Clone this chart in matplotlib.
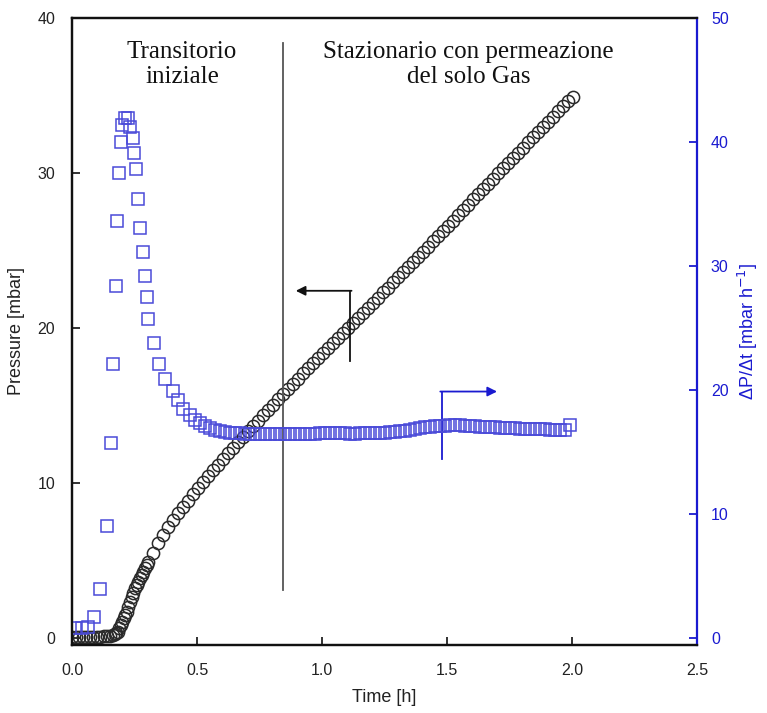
import matplotlib
matplotlib.use("Agg")
import matplotlib.pyplot as plt

### pressure (circles) ###
t_press = [0.000, 0.014, 0.028, 0.042, 0.056, 0.070, 0.084, 0.098, 0.112, 0.126,
           0.140, 0.152, 0.162, 0.170, 0.177, 0.183, 0.189, 0.196, 0.201, 0.207,
           0.212, 0.219, 0.225, 0.232, 0.239, 0.245, 0.252, 0.259, 0.265, 0.272,
           0.279, 0.285, 0.292, 0.299, 0.305, 0.325, 0.345, 0.365, 0.385, 0.405,
           0.425, 0.445, 0.465, 0.485, 0.505, 0.525, 0.545, 0.565, 0.585, 0.605,
           0.625, 0.645, 0.665, 0.685, 0.705, 0.725, 0.745, 0.765, 0.785, 0.805,
           0.825, 0.845, 0.865, 0.885, 0.905, 0.925, 0.945, 0.965, 0.985, 1.005,
           1.025, 1.045, 1.065, 1.085, 1.105, 1.125, 1.145, 1.165, 1.185, 1.205,
           1.225, 1.245, 1.265, 1.285, 1.305, 1.325, 1.345, 1.365, 1.385, 1.405,
           1.425, 1.445, 1.465, 1.485, 1.505, 1.525, 1.545, 1.565, 1.585, 1.605,
           1.625, 1.645, 1.665, 1.685, 1.705, 1.725, 1.745, 1.765, 1.785, 1.805,
           1.825, 1.845, 1.865, 1.885, 1.905, 1.925, 1.945, 1.965, 1.985, 2.003]
p_press = [0.05, 0.05, 0.06, 0.06, 0.07, 0.07, 0.08, 0.08, 0.09, 0.10,
           0.11, 0.13, 0.17, 0.24, 0.32, 0.41, 0.62, 0.84, 1.05, 1.27,
           1.48, 1.69, 2.02, 2.34, 2.66, 2.92, 3.20, 3.41, 3.63, 3.84,
           4.06, 4.27, 4.49, 4.70, 4.91, 5.50, 6.10, 6.65, 7.15, 7.62,
           8.06, 8.46, 8.87, 9.28, 9.67, 10.05, 10.44, 10.82, 11.19, 11.56,
           11.92, 12.28, 12.63, 12.98, 13.33, 13.68, 14.02, 14.37, 14.71, 15.05,
           15.39, 15.73, 16.07, 16.41, 16.74, 17.08, 17.41, 17.74, 18.06, 18.39,
           18.71, 19.04, 19.36, 19.69, 20.01, 20.34, 20.66, 20.99, 21.31, 21.64,
           21.96, 22.29, 22.61, 22.94, 23.26, 23.59, 23.92, 24.25, 24.58, 24.91,
           25.24, 25.58, 25.91, 26.25, 26.59, 26.93, 27.27, 27.61, 27.95, 28.29,
           28.63, 28.96, 29.30, 29.64, 29.97, 30.31, 30.64, 30.98, 31.31, 31.64,
           31.98, 32.31, 32.64, 32.97, 33.31, 33.64, 33.97, 34.30, 34.63, 34.90]

### dP/dt (squares) ###
t_rate = [0.012, 0.041, 0.063, 0.089, 0.112, 0.139, 0.155, 0.163, 0.176, 0.181,
          0.189, 0.195, 0.199, 0.212, 0.225, 0.232, 0.243, 0.248, 0.256, 0.265,
          0.272, 0.283, 0.292, 0.299, 0.305, 0.328, 0.349, 0.372, 0.403, 0.425,
          0.445, 0.472, 0.492, 0.512, 0.532, 0.552, 0.572, 0.592, 0.612, 0.632,
          0.652, 0.672, 0.692, 0.712, 0.732, 0.752, 0.772, 0.792, 0.812, 0.832,
          0.852, 0.872, 0.892, 0.912, 0.932, 0.952, 0.972, 0.992, 1.012, 1.032,
          1.052, 1.072, 1.092, 1.112, 1.132, 1.152, 1.172, 1.192, 1.212, 1.232,
          1.252, 1.272, 1.292, 1.312, 1.332, 1.352, 1.372, 1.392, 1.412, 1.432,
          1.452, 1.472, 1.492, 1.512, 1.532, 1.552, 1.572, 1.592, 1.612, 1.632,
          1.652, 1.672, 1.692, 1.712, 1.732, 1.752, 1.772, 1.792, 1.812, 1.832,
          1.852, 1.872, 1.892, 1.912, 1.932, 1.952, 1.972, 1.992]
rate = [0.78, 0.78, 0.91, 1.72, 3.92, 9.0, 15.7, 22.1, 28.4, 33.6,
        37.5, 40.0, 41.4, 41.9, 41.9, 41.2, 40.3, 39.1, 37.8, 35.4,
        33.1, 31.1, 29.2, 27.5, 25.7, 23.8, 22.1, 20.9, 19.9, 19.2,
        18.5, 17.95, 17.55, 17.3, 17.07, 16.9, 16.75, 16.67, 16.6, 16.55,
        16.52, 16.5, 16.48, 16.46, 16.45, 16.44, 16.43, 16.42, 16.42, 16.42,
        16.42, 16.43, 16.44, 16.45, 16.46, 16.47, 16.48, 16.5, 16.52, 16.53,
        16.53, 16.52, 16.5, 16.48, 16.48, 16.5, 16.52, 16.53, 16.53, 16.53,
        16.55, 16.58, 16.62, 16.67, 16.72, 16.78, 16.85, 16.92, 16.98, 17.03,
        17.07, 17.1, 17.13, 17.15, 17.16, 17.15, 17.13, 17.1, 17.07, 17.04,
        17.02, 17.0, 16.98, 16.96, 16.94, 16.92, 16.9, 16.88, 16.86, 16.85,
        16.84, 16.83, 16.82, 16.8, 16.79, 16.78, 16.76, 17.15]

x_ticks = [0.0, 0.5, 1.0, 1.5, 2.0, 2.5]
p_ticks = [0, 10, 20, 30, 40]
r_ticks = [0, 10, 20, 30, 40, 50]

BLUE = "#1a1ad0"
SQ = "#4a4ad8"
SANS = ["Liberation Sans", "DejaVu Sans"]
SERIF = ["Liberation Serif", "DejaVu Serif"]

plt.rcParams["font.family"] = SANS

fig = plt.figure(figsize=(7.67, 7.13), dpi=100)
ax = fig.add_axes([0.0939, 0.0954, 0.8149, 0.8794])
ax2 = ax.twinx()

ax.plot(t_press, p_press, linestyle="none", marker="o", markersize=8.8,
        markerfacecolor="none", markeredgecolor="#2a2a2a", markeredgewidth=1.1)
ax2.plot(t_rate, rate, linestyle="none", marker="s", markersize=8,
         markerfacecolor="none", markeredgecolor=SQ, markeredgewidth=1.1)

ax.set_xlim(0, 2.5)
ax.set_ylim(-0.45, 40)
ax2.set_ylim(-0.56, 50)
ax.set_xticks(x_ticks)
ax.set_xticklabels(["%.1f" % v for v in x_ticks])
ax.set_yticks(p_ticks)
ax2.set_yticks(r_ticks)

ax.tick_params(axis="both", direction="in", length=6, width=1.3,
               labelsize=11.5, colors="#222222", pad=12)
ax.tick_params(axis="x", pad=13)
ax2.tick_params(axis="y", direction="in", length=6, width=1.3,
                labelsize=11.5, colors=BLUE, pad=10)

for s in ["left", "bottom", "top"]:
    ax.spines[s].set_linewidth(1.6)
    ax.spines[s].set_color("#111111")
    ax2.spines[s].set_linewidth(1.6)
    ax2.spines[s].set_color("#111111")
ax2.spines["right"].set_color(BLUE)
ax2.spines["right"].set_linewidth(1.6)
ax.spines["right"].set_visible(False)

ax.set_xlabel("Time [h]", fontsize=13, color="#222222", labelpad=8)
ax.set_ylabel("Pressure [mbar]", fontsize=13, color="#222222", labelpad=9)
ax2.set_ylabel(r"ΔP/Δt [mbar h$^{-1}$]", fontsize=13, color=BLUE, labelpad=5)

### regions ###
ax.plot([0.844, 0.844], [3.1, 38.4], color="#555555", linewidth=1.3)
ax.text(0.44, 37.0, "Transitorio\niniziale", ha="center", va="center",
        fontsize=18, family=SERIF, color="#111111", linespacing=1.2)
ax.text(1.585, 37.0, "Stazionario con permeazione\ndel solo Gas", ha="center",
        va="center", fontsize=18, family=SERIF, color="#111111", linespacing=1.2)

### arrows ###
ax.plot([1.112, 1.112], [17.9, 22.4], color="#111111", linewidth=1.3)
ax.annotate("", xy=(0.895, 22.4), xytext=(1.118, 22.4),
            arrowprops=dict(arrowstyle="-|>", color="#111111", lw=1.3,
                            mutation_scale=14, shrinkA=0, shrinkB=0))
ax.plot([1.479, 1.479], [11.57, 15.9], color=BLUE, linewidth=1.3)
ax.annotate("", xy=(1.70, 15.9), xytext=(1.473, 15.9),
            arrowprops=dict(arrowstyle="-|>", color=BLUE, lw=1.3,
                            mutation_scale=14, shrinkA=0, shrinkB=0))

fig.savefig("out.png", dpi=100)
